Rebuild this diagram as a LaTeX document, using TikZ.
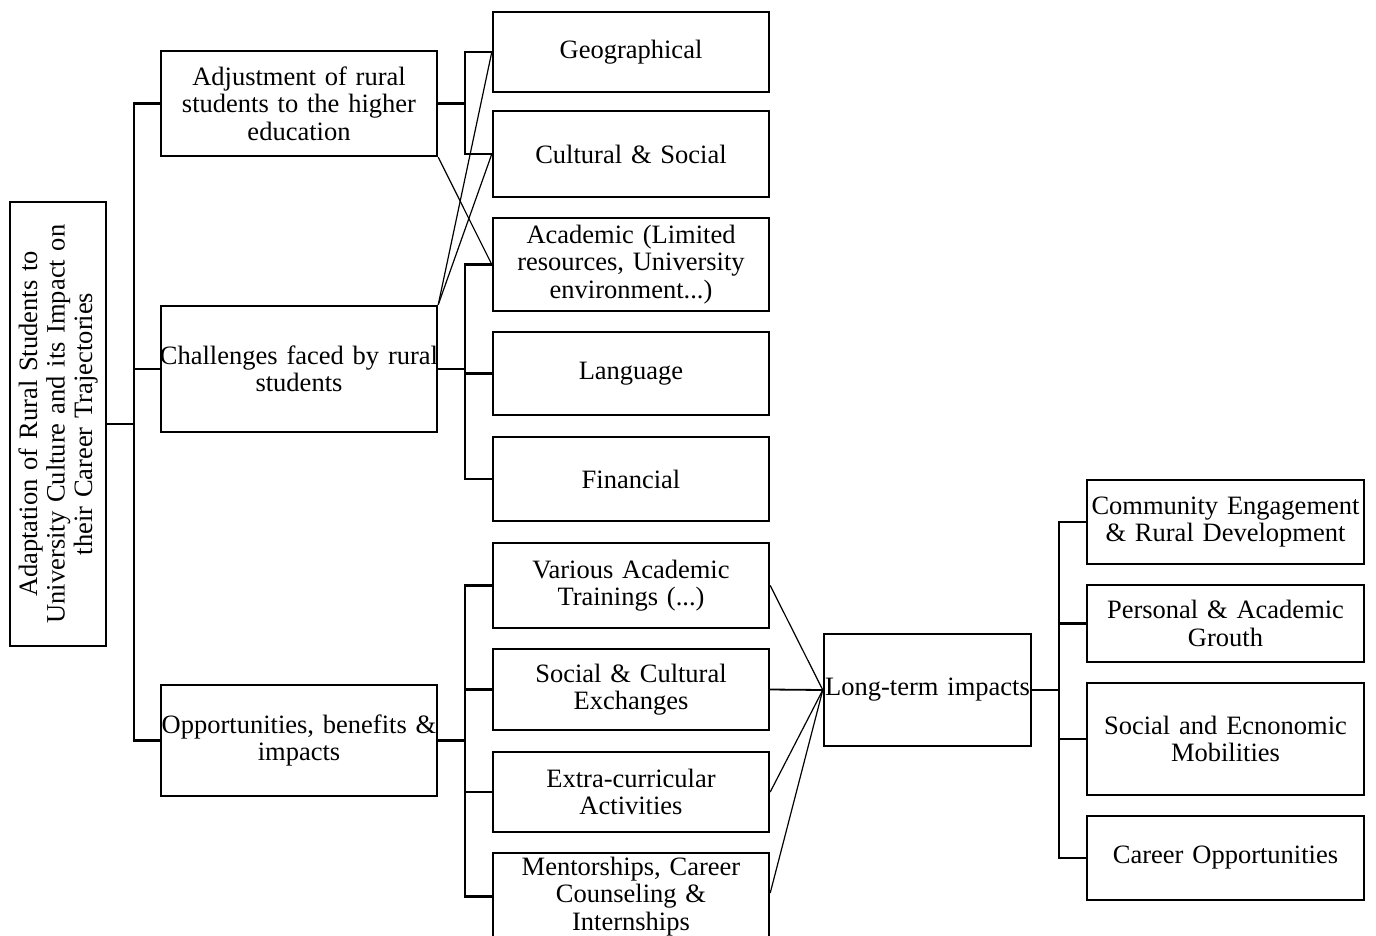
\documentclass[tikz,border=0pt]{standalone}
\usepackage{fontspec}
\setmainfont{Liberation Serif}
\begin{document}
\begin{tikzpicture}[x=1pt,y=-1pt,
  box/.style={draw, line width=2.4pt, inner xsep=-6pt, inner ysep=0pt, align=center,
    font=\fontsize{26.5}{27.5}\selectfont},
  con/.style={line width=2.6pt},
  thin/.style={line width=1.2pt}]
\useasboundingbox (0,0) rectangle (1376,935);
% root
\node[box, rotate=90, text width=456pt, minimum height=96pt] (root) at (58,424)
  {Adaptation of Rural Students to\\University Culture and its Impact on\\their Career Trajectories};
% level 1
\node[box, text width=288pt, minimum height=105pt] (a1) at (299,103.5) {Adjustment of rural\\students to the higher\\education};
\node[box, text width=288pt, minimum height=126pt] (a2) at (299,369) {Challenges faced by rural\\students};
\node[box, text width=288pt, minimum height=111pt] (a3) at (299,740.5) {Opportunities, benefits \&\\impacts};
% level 2
\node[box, text width=288pt, minimum height=80pt] (b1) at (631,52) {Geographical};
\node[box, text width=288pt, minimum height=86pt] (b2) at (631,154) {Cultural \& Social};
\node[box, text width=288pt, minimum height=93pt] (b3) at (631,264.5) {Academic (Limited\\resources, University\\environment...)};
\node[box, text width=288pt, minimum height=83pt] (b4) at (631,373.5) {Language};
\node[box, text width=288pt, minimum height=84pt] (b5) at (631,479) {Financial};
\node[box, text width=288pt, minimum height=85pt] (b6) at (631,585.5) {Various Academic\\Trainings (...)};
\node[box, text width=288pt, minimum height=81pt] (b7) at (631,689.5) {Social \& Cultural\\Exchanges};
\node[box, text width=288pt, minimum height=80pt] (b8) at (631,792) {Extra-curricular\\Activities};
\node[box, text width=288pt, minimum height=87pt] (b9) at (631,896.5) {Mentorships, Career\\Counseling \&\\Internships};
% long-term
\node[box, text width=219pt, minimum height=112pt] (lt) at (927.5,690) {Long-term impacts};
% level 3
\node[box, text width=289pt, minimum height=84pt] (c1) at (1225.5,522) {Community Engagement\\\& Rural Development};
\node[box, text width=289pt, minimum height=77pt] (c2) at (1225.5,623.5) {Personal \& Academic\\Grouth};
\node[box, text width=289pt, minimum height=112pt] (c3) at (1225.5,739) {Social and Ecnonomic\\Mobilities};
\node[box, text width=289pt, minimum height=84pt] (c4) at (1225.5,858) {Career Opportunities};
% connectors root
\coordinate (t0) at (134,424);
\draw[con] (root.south) -- (t0);
\draw[con] (t0) |- (a1.west);
\draw[con] (t0) |- (a2.west);
\draw[con] (t0) |- (a3.west);
% a1 branch
\coordinate (t1) at (465,103.5);
\draw[con] (a1.east) -- (t1);
\draw[con] (t1) |- (b1.west);
\draw[con] (t1) |- (b2.west);
% a2 branch
\coordinate (t2) at (465,369);
\draw[con] (a2.east) -- (t2);
\draw[con] (t2) |- (b3.west);
\draw[con] (t2) |- (b4.west);
\draw[con] (t2) |- (b5.west);
% a3 branch
\coordinate (t3) at (465,740.5);
\draw[con] (a3.east) -- (t3);
\draw[con] (t3) |- (b6.west);
\draw[con] (t3) |- (b7.west);
\draw[con] (t3) |- (b8.west);
\draw[con] (t3) |- (b9.west);
% crossing thin lines
\draw[thin] (a1.south east) -- (b3.west);
\draw[thin] (a2.north east) -- (b1.west);
\draw[thin] (a2.north east) -- (b2.west);
% to long-term
\draw[thin] (b6.east) -- (lt.west);
\draw[line width=1.8pt] (b7.east) -- (lt.west);
\draw[thin] (b8.east) -- (lt.west);
\draw[thin] ([yshift=3.5pt]b9.east) -- (lt.west);
% lt branch
\coordinate (t4) at (1059,690);
\draw[con] (lt.east) -- (t4);
\draw[con] (t4) |- (c1.west);
\draw[con] (t4) |- (c2.west);
\draw[con] (t4) |- (c3.west);
\draw[con] (t4) |- (c4.west);
\end{tikzpicture}
\end{document}
